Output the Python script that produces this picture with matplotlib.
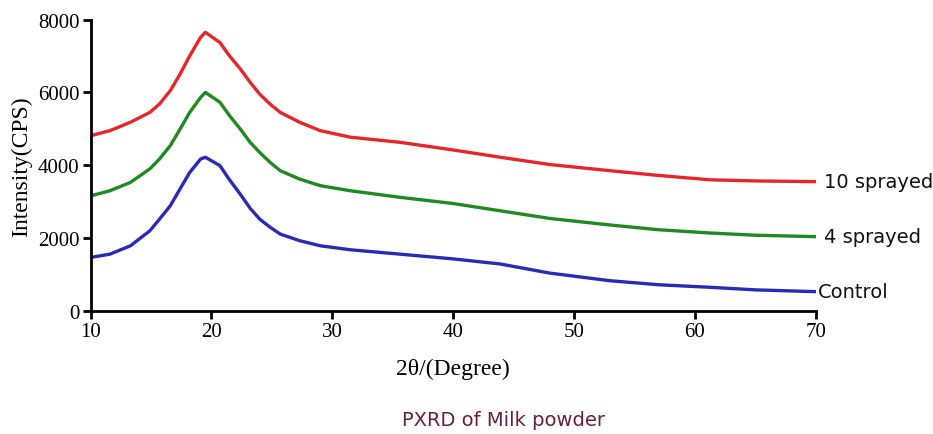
import matplotlib
matplotlib.use("Agg")
import matplotlib.pyplot as plt

two_theta = [10, 11.6, 13.3, 14.9, 15.7, 16.6, 17.4, 18.2, 19.1, 19.5, 20.7, 21.5, 22.4, 23.2, 24.0,
             24.85, 25.7, 27.3, 29.0, 31.5, 35.6, 40, 43.9, 48, 53, 57, 61.3, 65, 70]

sprayed_10 = [4810, 4950, 5180, 5450, 5680, 6050, 6500, 7000, 7510, 7650, 7370, 7000, 6640, 6280, 5950,
              5680, 5450, 5180, 4950, 4770, 4630, 4420, 4220, 4020, 3850, 3720, 3600, 3570, 3550]

sprayed_4 = [3160, 3300, 3530, 3900, 4170, 4540, 4990, 5450, 5860, 6000, 5730, 5360, 4990, 4630, 4350,
             4080, 3850, 3620, 3440, 3300, 3120, 2950, 2750, 2540, 2360, 2230, 2140, 2080, 2040]

control = [1470, 1560, 1790, 2200, 2520, 2890, 3350, 3800, 4170, 4220, 3990, 3600, 3200, 2820, 2520,
           2300, 2110, 1930, 1790, 1680, 1560, 1430, 1290, 1040, 830, 720, 650, 580, 530]

series_labels = ["10 sprayed", "4 sprayed", "Control"]
series_colors = ["#e8262a", "#1f8a1f", "#2a2ab8"]
x_ticks = [10, 20, 30, 40, 50, 60, 70]
y_ticks = [0, 2000, 4000, 6000, 8000]

fig = plt.figure(figsize=(9.33, 4.35), dpi=100)
ax = fig.add_axes([0.0971, 0.2828, 0.7771, 0.670])

serif = "Liberation Serif"
for ys, lab, col in zip([sprayed_10, sprayed_4, control], series_labels, series_colors):
    ax.plot(two_theta, ys, color=col, lw=2.4, solid_joinstyle="round")
    ax.annotate(lab, xy=(two_theta[-1], ys[-1]), xytext=(6 if lab != "Control" else 1.5, 0),
                textcoords="offset points", va="center", ha="left",
                fontsize=14, family="DejaVu Sans", color="#111111", annotation_clip=False)

ax.set_xlim(10, 70)
ax.set_ylim(0, 8000)
ax.set_xticks(x_ticks)
ax.set_yticks(y_ticks)
ax.set_xticklabels([str(t) for t in x_ticks], family=serif, fontsize=15)
ax.set_yticklabels([str(t) for t in y_ticks], family=serif, fontsize=15)
for s in ["top", "right"]:
    ax.spines[s].set_visible(False)
for s in ["left", "bottom"]:
    ax.spines[s].set_linewidth(2.0)
ax.tick_params(axis="both", direction="out", length=6, width=2.0, pad=2)

ax.set_xlabel("2θ/(Degree)", family=serif, fontsize=17, labelpad=12)
ax.set_ylabel("Intensity(CPS)", family=serif, fontsize=17, labelpad=4)

fig.text(0.54, 0.034, "PXRD of Milk powder", ha="center", va="center",
         fontsize=14, family="DejaVu Sans", color="#6a1f40")

fig.savefig("out.png", dpi=100)
